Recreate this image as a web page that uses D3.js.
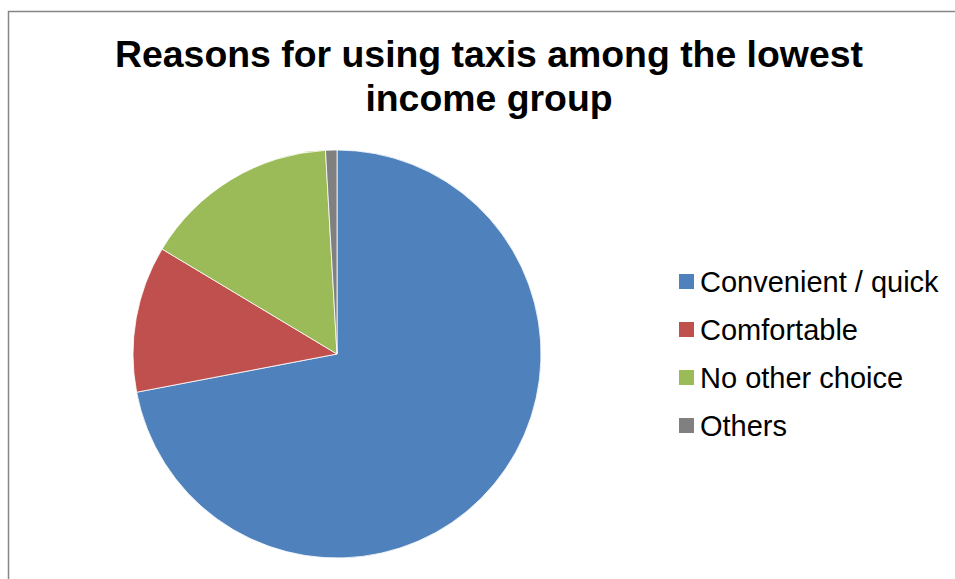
<!DOCTYPE html>
<html>
<head>
<meta charset="utf-8">
<script src="https://cdn.jsdelivr.net/npm/d3@7"></script>
<style>
  body { margin: 0; background: #fff; }
  svg { display: block; font-family: "Liberation Sans", Arial, sans-serif; }
</style>
</head>
<body>
<div id="chart"></div>
<script>
((() => {
  var width = 955;
  var height = 579;

  // data (share of answers, %)
  var categories = ["Convenient / quick", "Comfortable", "No other choice", "Others"];
  var shares = [72, 11.6, 15.5, 0.9];
  var colours = ["#4F81BD", "#C0504D", "#9BBB59", "#808080"];
  var titleLines = ["Reasons for using taxis among the lowest", "income group"];

  var svg = d3.select("#chart")
    .append("svg")
    .attr("width", width)
    .attr("height", height);

  // chart frame (only left and top edges show)
  svg.append("path")
    .attr("d", "M8.5," + height + "V11.5H" + width)
    .attr("fill", "none")
    .attr("stroke", "#868686")
    .attr("stroke-width", 1.5);

  // title
  svg.append("text")
    .attr("x", 489)
    .attr("y", 67)
    .attr("text-anchor", "middle")
    .style("font-size", "37.4px")
    .style("font-weight", "bold")
    .selectAll("tspan")
    .data(titleLines)
    .enter()
    .append("tspan")
    .attr("x", 489)
    .attr("dy", function(d, i) { return i ? 44 : 0; })
    .text(function(d) { return d; });

  var items = categories.map(function(c, i) { return { name: c, value: shares[i] }; });
  var colour = d3.scaleOrdinal().domain(categories).range(colours);

  var pie = d3.pie().sort(null).value(function(d) { return d.value; });
  var arc = d3.arc().innerRadius(0).outerRadius(204);

  var pieGroup = svg.append("g").attr("transform", "translate(337,354)");
  pieGroup.selectAll("path")
    .data(pie(items))
    .enter()
    .append("path")
    .attr("d", arc)
    .attr("fill", function(d) { return colour(d.data.name); })
    .attr("stroke", "#fff")
    .attr("stroke-width", 0.8);

  // legend
  var legend = svg.append("g").attr("transform", "translate(679,274)");
  var rows = legend.selectAll("g")
    .data(categories)
    .enter()
    .append("g")
    .attr("transform", function(d, i) { return "translate(0," + (i * 48) + ")"; });
  rows.append("rect")
    .attr("width", 15)
    .attr("height", 15)
    .attr("fill", function(d) { return colour(d); });
  rows.append("text")
    .attr("x", 21)
    .attr("y", 18)
    .style("font-size", "29px")
    .text(function(d) { return d; });
})());
</script>
</body>
</html>
